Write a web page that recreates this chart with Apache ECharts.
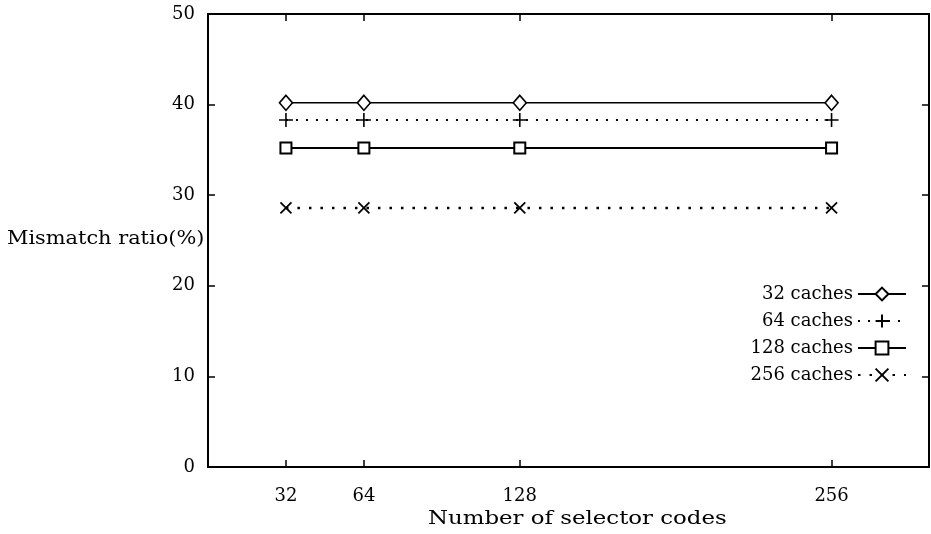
<!DOCTYPE html>
<html><head><meta charset="utf-8">
<script src="https://cdn.jsdelivr.net/npm/echarts@6/dist/echarts.min.js"></script>
<style>html,body{margin:0;padding:0;background:#fff}#c{width:931px;height:534px}</style>
</head><body><div id="c"></div>
<script>
const xValues = [32, 64, 128, 256];
const xTickLabels = [32, 64, 128, 256];
const yTicks = [0, 10, 20, 30, 40, 50];
const seriesNames = ['32 caches', '64 caches', '128 caches', '256 caches'];
const s32 = [40.2, 40.2, 40.2, 40.2];
const s64 = [38.3, 38.3, 38.3, 38.3];
const s128 = [35.2, 35.2, 35.2, 35.2];
const s256 = [28.6, 28.6, 28.6, 28.6];
const xTitle = 'Number of selector codes';
const yTitle = 'Mismatch ratio(%)';

const FONT = '"DejaVu Serif", "Liberation Serif", serif';
const FS = 18;
const plusPath = 'path://M0,5L10,5M5,0L5,10';
const xPath = 'path://M0,0L10,10M10,0L0,10';

function pairs(vals){ return xValues.map((x,i)=>[x, vals[i]]); }

const chart = echarts.init(document.getElementById('c'), null, {renderer:'canvas'});
const common = {type:'line', symbolKeepAspect:true};
chart.setOption({
  animation:false,
  backgroundColor:'#fff',
  textStyle:{fontFamily:FONT, color:'#000'},
  grid:{left:208, right:2, top:14, bottom:67, show:true, borderColor:'#000', borderWidth:2, backgroundColor:'transparent'},
  xAxis:[{
    type:'value', min:0, max:296, position:'bottom',
    axisLine:{show:true, onZero:false, lineStyle:{color:'#000', width:2}},
    axisTick:{show:true, inside:true, length:7, customValues:xTickLabels, lineStyle:{color:'#000', width:1.5}},
    axisLabel:{show:true, customValues:xTickLabels, margin:20, fontSize:FS, color:'#000', fontFamily:FONT},
    splitLine:{show:false}
  },{
    type:'value', min:0, max:296, position:'top',
    axisLine:{show:true, onZero:false, lineStyle:{color:'#000', width:2}},
    axisTick:{show:true, inside:true, length:7, customValues:xTickLabels, lineStyle:{color:'#000', width:1.5}},
    axisLabel:{show:false}, splitLine:{show:false}
  }],
  yAxis:[{
    type:'value', min:0, max:50, interval:10, position:'left',
    axisLine:{show:true, onZero:false, lineStyle:{color:'#000', width:2}},
    axisTick:{show:true, inside:true, length:7, lineStyle:{color:'#000', width:1.5}},
    axisLabel:{show:true, margin:13, fontSize:FS, color:'#000', fontFamily:FONT},
    splitLine:{show:false}
  },{
    type:'value', min:0, max:50, interval:10, position:'right',
    axisLine:{show:true, onZero:false, lineStyle:{color:'#000', width:2}},
    axisTick:{show:true, inside:true, length:7, lineStyle:{color:'#000', width:1.5}},
    axisLabel:{show:false}, splitLine:{show:false}
  }],
  legend:{
    orient:'vertical', right:19, top:280, align:'right', itemGap:9,
    itemWidth:48, itemHeight:16,
    textStyle:{fontSize:FS, fontFamily:FONT, color:'#000', padding:[0,0,0,0]},
    data:seriesNames
  },
  series:[
    Object.assign({}, common, {name:seriesNames[0], data:pairs(s32), symbol:'diamond', symbolSize:[13,15],
      lineStyle:{color:'#000', width:1.6, type:'solid'},
      itemStyle:{color:'#fff', borderColor:'#000', borderWidth:1.6}}),
    Object.assign({}, common, {name:seriesNames[1], data:pairs(s64), symbol:plusPath, symbolSize:14,
      lineStyle:{color:'#000', width:2, type:[2,8]},
      itemStyle:{color:'#000', borderColor:'#000', borderWidth:1.6}}),
    Object.assign({}, common, {name:seriesNames[2], data:pairs(s128), symbol:'rect', symbolSize:11,
      lineStyle:{color:'#000', width:2, type:'solid'},
      itemStyle:{color:'#fff', borderColor:'#000', borderWidth:2}}),
    Object.assign({}, common, {name:seriesNames[3], data:pairs(s256), symbol:xPath, symbolSize:11,
      lineStyle:{color:'#000', width:2.5, type:[2.5,9]},
      itemStyle:{color:'#000', borderColor:'#000', borderWidth:1.8}})
  ],
  graphic:[
    {type:'text', x:7, y:230, scaleX:1.16, style:{text:yTitle, font:FS+'px '+FONT, fill:'#000', textAlign:'left'}},
    {type:'text', x:428, y:510, scaleX:1.27, style:{text:xTitle, font:FS+'px '+FONT, fill:'#000', textAlign:'left'}}
  ]
});
</script></body></html>
